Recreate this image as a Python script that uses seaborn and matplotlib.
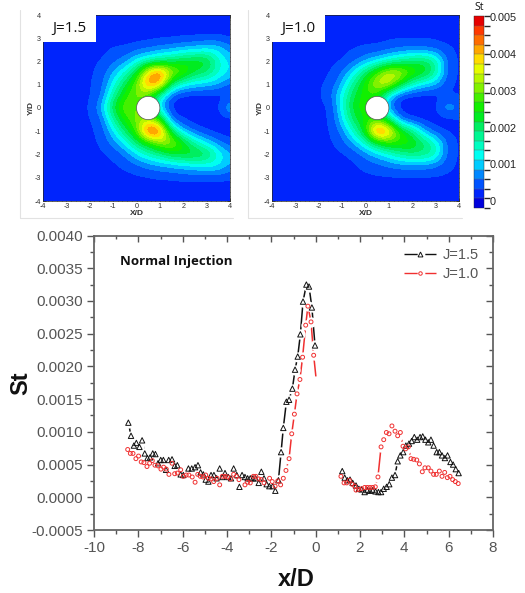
import numpy as np
import pandas as pd
import seaborn as sns
import matplotlib
matplotlib.use("Agg")
import matplotlib.pyplot as plt
from matplotlib.colors import LinearSegmentedColormap, BoundaryNorm
from matplotlib.lines import Line2D
from matplotlib.patches import Circle, Rectangle
from matplotlib.ticker import MultipleLocator, FormatStrFormatter, NullFormatter

# ---------- profile data (St in units of 1e-4) ----------
x15_up = [-8.45,-8.33,-8.20,-8.09,-7.95,-7.83,-7.71,-7.59,-7.47,-7.35,-7.23,-7.11,-6.99,-6.87,-6.75,-6.63,-6.48,-6.36,-6.24,-6.09,-5.97,-5.74,-5.59,-5.44,-5.31,-5.19,-5.07,-4.96,-4.84,-4.72,-4.59,-4.47,-4.33,-4.21,-4.09,-3.94,-3.82,-3.70,-3.56,-3.44,-3.32,-3.19,-3.07,-2.95,-2.83,-2.71,-2.57,-2.45,-2.33,-2.21,-2.09,-1.94,-1.82,-1.68,-1.56,-1.46,-1.32,-1.20,-1.05,-0.93,-0.81,-0.69,-0.57,-0.42,-0.30,-0.17,-0.03]
y15_up = [11.4,9.4,7.9,8.3,7.7,8.7,6.7,6.0,6.1,6.7,6.6,5.2,5.7,5.7,4.2,5.7,5.8,4.8,4.9,3.5,3.4,4.4,4.4,4.6,4.9,3.8,3.5,2.7,2.4,3.4,3.4,2.9,4.4,3.1,3.7,3.1,2.9,4.4,3.4,1.6,3.4,3.1,2.9,2.9,2.9,2.9,2.2,3.9,2.9,2.0,1.7,1.7,1.0,2.6,6.9,10.6,14.6,14.9,16.6,19.5,21.5,24.9,29.9,32.5,32.2,29.0,23.2]
x15_dn = [1.20,1.31,1.43,1.55,1.67,1.82,1.95,2.07,2.21,2.33,2.45,2.57,2.70,2.83,2.95,3.07,3.20,3.32,3.44,3.58,3.70,3.82,3.95,4.07,4.21,4.33,4.45,4.58,4.71,4.83,4.95,5.08,5.20,5.32,5.46,5.58,5.70,5.83,5.95,6.08,6.20,6.32,6.45]
y15_dn = [4.0,3.0,2.6,2.7,2.2,1.8,1.3,1.2,0.8,1.1,1.0,1.1,0.9,0.8,0.8,1.3,1.6,2.0,3.0,3.4,5.5,6.4,6.9,7.9,8.2,8.6,9.2,8.8,9.2,9.3,8.8,8.4,8.8,7.9,6.9,6.9,6.4,6.0,6.4,5.4,5.0,4.3,3.7]
x10_up = [-8.48,-8.36,-8.24,-8.11,-7.99,-7.87,-7.75,-7.61,-7.49,-7.37,-7.25,-7.11,-6.98,-6.86,-6.74,-6.62,-6.48,-6.36,-6.24,-6.09,-5.97,-5.84,-5.72,-5.57,-5.44,-5.32,-5.20,-5.08,-4.96,-4.84,-4.72,-4.60,-4.45,-4.33,-4.21,-4.09,-3.97,-3.84,-3.70,-3.58,-3.46,-3.19,-3.07,-2.95,-2.81,-2.70,-2.57,-2.45,-2.33,-2.08,-1.96,-1.83,-1.71,-1.58,-1.46,-1.34,-1.20,-1.08,-0.96,-0.84,-0.71,-0.59,-0.45,-0.35,-0.21,-0.09]
y10_up = [7.3,6.7,6.7,5.9,6.3,5.4,5.3,4.7,5.2,5.6,4.9,4.8,4.3,4.6,4.3,3.5,5.2,3.6,3.7,4.2,3.2,3.4,3.4,3.1,2.3,3.5,3.2,3.1,3.4,2.9,2.8,2.4,2.9,1.9,3.2,3.2,3.1,2.8,3.5,3.2,2.7,1.9,2.3,2.2,3.2,3.2,2.8,2.7,2.2,2.9,2.4,1.7,2.5,1.9,2.9,4.1,5.9,9.7,12.7,15.8,18.0,21.4,26.3,29.2,26.8,21.7]
x10_tail = [0.03]
y10_tail = [17.8]
x10_dn = [1.14,1.28,1.40,1.52,1.64,1.76,1.82,1.95,2.07,2.21,2.33,2.45,2.57,2.69,2.81,2.95,3.07,3.19,3.31,3.44,3.58,3.70,3.82,3.94,4.06,4.18,4.30,4.42,4.56,4.68,4.81,4.93,5.08,5.20,5.32,5.44,5.58,5.70,5.82,5.94,6.06,6.18,6.30,6.43]
y10_dn = [3.2,2.2,2.2,2.6,2.0,1.7,1.1,1.2,1.3,1.5,1.5,1.5,1.5,1.6,3.1,7.7,8.8,9.9,9.7,10.9,10.1,9.4,9.9,7.8,7.4,7.7,5.9,5.8,5.7,5.1,3.9,4.5,4.5,4.0,3.5,3.5,4.0,3.2,3.8,3.0,3.2,2.7,2.4,2.1]

# ---------- contour fields, St*1e4, x = -4..4 step 0.5, y = 4..-4 step 0.5 ----------
field_15 = [
 [1,1,1,1,1,1,1,1,1,1,1,1,1,1,1,1,1],
 [1.2,1.2,1.2,1.2,1.2,1.2,1.2,1.5,1.5,1.5,1.5,1.5,1.5,1.5,1.5,1.5,1.5],
 [1.5,1.5,1.5,1.5,1.5,1.5,2,2,2.5,2.5,3,3,3.5,3.5,4,4,3],
 [2,2,2,2,2,2.5,4,4,5,6,7,8,9,10,11,11,7],
 [2.5,2.5,2.5,2.5,3,3.5,5,7,12,15,18,20,23,24,24,15,10],
 [3,3,3,3,3,4,9,14,22,40,47,33,29,22,20,14,11],
 [3,3,3,3,3,5,12,21,30,44,42,20,13,11,10,9,5],
 [3,3,3,3,3,5,17,26,30,28,15,4,2,2,2,2,2],
 [3,3,3,3,3,9,22,30,30,25,10,2,2,2,2,3,11],
 [3,3,3,3,3,5,17,26,30,33,26,5,3,2,2,2,2],
 [3,3,3,3,3,4,11,20,28,50,48,20,9,5,3,2,2],
 [2.5,2.5,2.5,2.5,2.5,4,7,12,20,25,32,34,25,16,11,7,4],
 [2,2,2,2,2,3,4,6,11,15,18,22,24,24,22,14,9],
 [1.5,1.5,1.5,2,2,2,3,4,5,7,8,9,10,11,12,12,8],
 [1.5,1.5,1.5,1.5,1.5,2,2,2.5,3,3,3.5,3.5,4,4,4,4,3.5],
 [1.2,1.2,1.2,1.2,1.2,1.2,1.2,1.5,1.5,2,2,2,2,2,2,2,2],
 [1,1,1,1,1,1,1,1,1,1,1,1,1,1,1,1,1],
]
field_10 = [
 [1.2,1.2,1.2,1.2,1.2,1.2,1.2,1.2,1.2,1.2,1.2,1.2,1.2,1.2,1.2,1.2,1.2],
 [1.5,1.5,1.5,1.5,1.5,1.5,1.5,1.5,1.5,1.5,1.5,2,2,2,2,2,2],
 [1.5,1.5,1.5,1.5,1.5,2,2,2,2.5,2.5,3,3,3,3,3,2.5,2.5],
 [2.5,2.5,2.5,2.5,2.5,2.5,3,3.5,4,4,5,6,6,6,5,4,3],
 [3,3,3,3,3,3,3,5,8,11,14,17,20,21,17,5,3],
 [3,3,3,3,3,3,6,12,20,28,36,35,28,25,18,5,3],
 [3,3,3,3,3,4,9,18,26,35,36,24,15,11,9,4,3],
 [3,3,3,3,3,5,13,22,26,26,11,2.5,2,2,2,3,3],
 [3,3,3,3,3,3,13,24,26,22,6,2,2,2,3,10,6],
 [3,3,3,3,3,3,11,21,25,27,20,5,3,2,2,2,3],
 [3,3,3,3,3,3,7,15,25,50,42,26,19,9,4,3,3],
 [2.5,2.5,2.5,2.5,2.5,3,5,9,15,23,28,27,26,20,15,5,3],
 [2.5,2.5,2.5,2.5,2.5,2.5,3,4,7,10,13,17,19,19,16,5,3],
 [2,2,2,2,2,2,2.5,3,4,5,6,7,7,7,6,4,3],
 [1.5,1.5,1.5,1.5,1.5,2,2,2.5,3,3,3,3,3,3,3,3,3],
 [1.2,1.2,1.2,1.2,1.2,1.2,1.2,1.5,1.5,2,2,2,2,2,2,2,2],
 [1,1,1,1,1,1,1,1,1,1,1,1,1,1,1,1,1],
]
panel_labels = ["J=1.5", "J=1.0"]
cbar_ticks = [0, 0.001, 0.002, 0.003, 0.004, 0.005]
series_names = ["J=1.5", "J=1.0"]

# ---------- figure ----------
sns.set_theme(style="ticks")
plt.rcParams["font.family"] = ["Liberation Sans", "DejaVu Sans"]
plt.rcParams["axes.unicode_minus"] = False
W, H = 525, 593
fig = plt.figure(figsize=(W / 100, H / 100), dpi=100, facecolor="white")


def rect(l, t, r, b):
    return [l / W, 1 - b / H, (r - l) / W, (b - t) / H]


stops = [(-0.18, (0, 0, 220)), (0.12, (0, 40, 255)), (0.41, (0, 90, 255)), (0.70, (0, 140, 255)),
         (0.88, (0, 190, 255)), (1.17, (0, 255, 255)), (1.41, (0, 255, 210)), (1.70, (0, 250, 160)),
         (2.04, (0, 240, 110)), (2.27, (0, 235, 50)), (2.56, (0, 240, 0)), (2.85, (50, 240, 0)),
         (3.14, (110, 240, 0)), (3.43, (170, 245, 0)), (3.67, (210, 250, 0)), (3.93, (255, 255, 0)),
         (4.17, (255, 200, 0)), (4.46, (255, 150, 0)), (4.75, (255, 90, 0)), (5.03, (255, 40, 0)),
         (5.23, (230, 0, 0))]
vmin, vmax = stops[0][0], stops[-1][0]
cmap = LinearSegmentedColormap.from_list(
    "st", [((v - vmin) / (vmax - vmin), tuple(c / 255 for c in col)) for v, col in stops], N=256)
levels = np.arange(-0.00018, 0.00526, 0.00026)
norm = BoundaryNorm(levels, cmap.N, clip=True)

img = None
for field, label, box, frame in zip([field_15, field_10], panel_labels,
                                    [(43, 15, 230, 201), (272, 15, 459, 201)], [20, 248]):
    ax = fig.add_axes(rect(*box))
    img = ax.imshow(np.array(field) * 1e-4, extent=[-4.25, 4.25, -4.25, 4.25], cmap=cmap, norm=norm,
                    interpolation="bicubic", aspect="auto", zorder=1)
    ax.add_patch(Circle((0.5, 0), 0.5, facecolor="white", edgecolor="#555555", lw=0.5, zorder=3))
    ax.add_patch(Rectangle((0, 0.855), 0.285, 0.145, transform=ax.transAxes, facecolor="white",
                           edgecolor="none", zorder=4))
    ax.text(0.1425, 0.925, label, transform=ax.transAxes, ha="center", va="center",
            fontsize=11, family="Open Sans", color="#111111", zorder=5)
    ax.set_xlim(-4, 4)
    ax.set_ylim(-4, 4)
    ax.xaxis.set_major_locator(MultipleLocator(1))
    ax.yaxis.set_major_locator(MultipleLocator(1))
    ax.xaxis.set_minor_locator(MultipleLocator(0.2))
    ax.yaxis.set_minor_locator(MultipleLocator(0.2))
    ax.tick_params(which="major", direction="in", length=2.5, width=0.5, labelsize=5.2,
                   top=True, right=True, pad=1.5, labelcolor="#333333", color="#222222")
    ax.tick_params(which="minor", direction="in", length=1.2, width=0.4, top=True, right=True,
                   color="#222222")
    ax.set_xlabel("X/D", fontsize=6, fontweight="bold", labelpad=0, color="#333333")
    ax.set_ylabel("Y/D", fontsize=6, fontweight="bold", labelpad=0, color="#333333")
    for s in ax.spines.values():
        s.set_linewidth(0.5)
        s.set_color("#222222")
    fig.add_artist(Line2D([frame / W, frame / W], [1 - 10 / H, 1 - 218 / H], color="#e2e2e2", lw=0.8))
    fig.add_artist(Line2D([frame / W, (box[2] + 3) / W], [1 - 218 / H, 1 - 218 / H], color="#e2e2e2", lw=0.8))

cax = fig.add_axes(rect(474, 16, 484, 208))
cb = fig.colorbar(img, cax=cax, ticks=cbar_ticks, drawedges=True, spacing="proportional")
cb.ax.set_yticklabels(["0", "0.001", "0.002", "0.003", "0.004", "0.005"])
cb.ax.tick_params(length=0, labelsize=7.8, pad=4, labelcolor="#222222")
cb.outline.set_linewidth(0.3)
cb.dividers.set_linewidth(0.3)
cb.dividers.set_color("#666666")
fig.text(479 / W, 1 - 8 / H, "St", ha="center", va="center", fontsize=7.5, family="Open Sans", color="#111111")

# ---------- profile panel ----------
ax = fig.add_axes(rect(94, 235.5, 493, 530))
black, red = "#111111", "#f03030"
segments = [
    (x15_up, y15_up, black, "J=1.5"), (x15_dn, y15_dn, black, "J=1.5"),
    (x10_up + x10_tail, y10_up + y10_tail, red, "J=1.0"), (x10_dn, y10_dn, red, "J=1.0"),
]
frames = [pd.DataFrame({"x": x, "St": np.array(y) * 1e-4}) for x, y, _, _ in segments]
for df, (_, _, c, _) in zip(frames, segments):
    sns.lineplot(data=df, x="x", y="St", color=c, lw=1.1, estimator=None, sort=False, ax=ax, zorder=2)
for df in frames:
    sns.scatterplot(data=df, x="x", y="St", color="white", s=55, marker="o", linewidth=0, ax=ax, zorder=3)
# the last red tail point carries the line end only, so markers stop one point earlier
marker_frames = [frames[0], frames[1], frames[2].iloc[:-1], frames[3]]
for df, (_, _, c, name) in zip(marker_frames, segments):
    mk = "^" if name == "J=1.5" else "o"
    sns.scatterplot(data=df, x="x", y="St", marker=mk, s=15 if mk == "^" else 8, facecolor="none",
                    edgecolor=c, linewidth=0.7, ax=ax, zorder=4 if mk == "^" else 5)

ax.set_xlim(-10, 8)
ax.set_ylim(-0.0005, 0.0040)
ax.xaxis.set_major_locator(MultipleLocator(2))
ax.xaxis.set_minor_locator(MultipleLocator(1))
ax.yaxis.set_major_locator(MultipleLocator(0.0005))
ax.yaxis.set_minor_locator(MultipleLocator(0.00025))
ax.yaxis.set_major_formatter(FormatStrFormatter("%.4f"))
ax.tick_params(which="major", direction="out", length=5, width=1, labelsize=11, labelcolor="#555555",
               color="#555555", pad=3)
ax.tick_params(which="minor", direction="out", length=3, width=1, color="#555555")
top = ax.secondary_xaxis("top")
right = ax.secondary_yaxis("right")
for sec in (top, right):
    sec.tick_params(which="major", direction="in", length=5, width=1, color="#555555")
    sec.tick_params(which="minor", direction="in", length=3, width=1, color="#555555")
    sec.spines[:].set_visible(False)
top.xaxis.set_major_locator(MultipleLocator(2))
top.xaxis.set_minor_locator(MultipleLocator(1))
top.xaxis.set_major_formatter(NullFormatter())
right.yaxis.set_major_locator(MultipleLocator(0.0005))
right.yaxis.set_minor_locator(MultipleLocator(0.00025))
right.yaxis.set_major_formatter(NullFormatter())
for s in ax.spines.values():
    s.set_linewidth(1.3)
    s.set_color("#666666")
ax.set_xlabel("x/D", fontsize=17, fontweight="bold", color="#111111")
ax.set_ylabel("St", fontsize=17, fontweight="bold", color="#111111")
ax.xaxis.set_label_coords((296 - 94) / 399, -(568 - 530) / 294.5)
ax.yaxis.set_label_coords(-(94 - 32) / 399, 0.5)
ax.text((120 - 94) / 399, 1 - (261 - 235.5) / 294.5, "Normal Injection", transform=ax.transAxes,
        ha="left", va="center", fontsize=9.5, fontweight="bold", family="Open Sans", color="#111111")

handles = [
    Line2D([], [], color=black, lw=1, linestyle=(0, (9.5, 5.5, 9.5)), marker="^", ms=3.5, mfc="none", mec=black, mew=0.7),
    Line2D([], [], color=red, lw=1, linestyle=(0, (9.5, 5.5, 9.5)), marker="o", ms=2.5, mfc="none", mec=red, mew=0.7),
]
ax.legend(handles, series_names, loc="upper left", frameon=False, numpoints=1, fontsize=10.5,
          labelcolor="#555555", handlelength=2.2, handletextpad=0.45, labelspacing=0.35,
          bbox_to_anchor=((404 - 94) / 399, 1 - (248 - 235.5) / 294.5), borderpad=0, borderaxespad=0)

fig.savefig("out.png", dpi=100)
